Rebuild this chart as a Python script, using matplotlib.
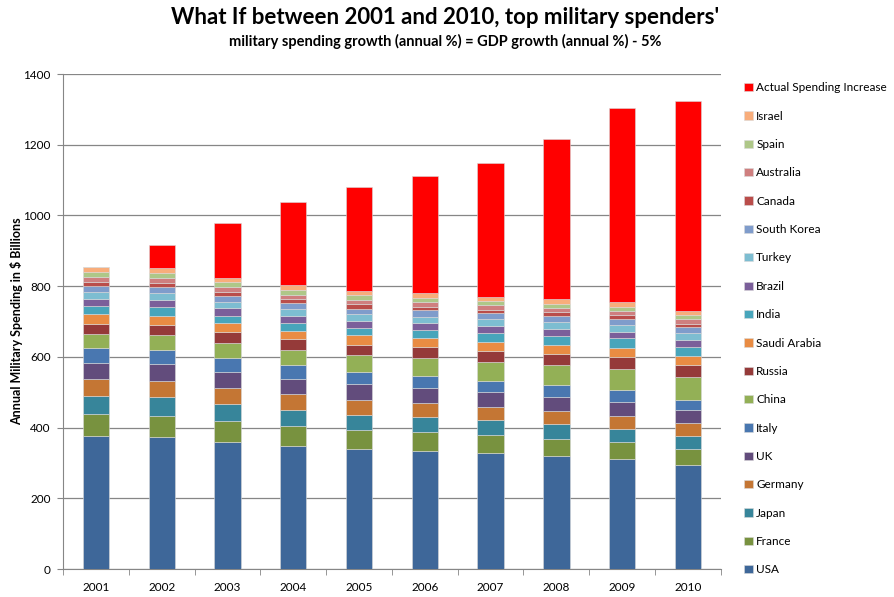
import numpy as np
import matplotlib
matplotlib.use("Agg")
import matplotlib.pyplot as plt

plt.rcParams['font.family'] = ['Lato', 'DejaVu Sans']

years = ["2001", "2002", "2003", "2004", "2005", "2006", "2007", "2008", "2009", "2010"]

# stacked segments, $ billions (bottom to top)
usa       = [377, 374, 360, 349, 340, 335, 329, 320, 311, 295]
france    = [60.5, 60, 58, 54.5, 53, 51.5, 49, 48.5, 47, 45]
japan     = [51.5, 51.5, 48, 46.5, 43, 43.5, 42.5, 42.5, 39, 37]
germany   = [48, 46.5, 46, 44, 42, 39.5, 37.5, 37, 36.5, 36]
uk        = [46, 47, 46, 44, 44, 43.5, 42, 39, 39.5, 37.5]
italy     = [42, 40, 38, 38, 36, 34, 32.5, 32.5, 32, 28.5]
china     = [40, 42, 43, 44, 47, 50, 53, 57.5, 61.5, 65]
russia    = [29, 29, 30, 30, 29, 31, 31.5, 32, 33.5, 34]
saudi     = [26, 26, 26, 24, 27, 24, 26, 24.5, 26, 23.5]
india     = [25, 25, 22, 23, 22, 25, 23.5, 26.5, 26, 27.5]
brazil    = [19, 21, 21, 19, 19, 20, 19.5, 19, 19, 19.5]
turkey    = [20, 18, 17, 18, 19, 17, 21, 18.5, 19, 19]
s_korea   = [16, 17, 17, 18, 15, 18, 16, 17, 17, 16]
canada    = [12, 13, 12, 12, 13, 10, 10, 11.5, 11, 10.5]
australia = [15, 13, 13, 12, 13, 13, 13, 12, 12, 12]
spain     = [14, 13, 14, 14, 12, 12, 12, 12, 11, 11.5]
israel    = [13, 14, 13, 13, 12, 13, 12, 13, 13, 12.5]
actual_increase = [0, 66, 156, 235, 294, 332, 378, 454, 550, 593]

series = [
    ("USA", usa, "#3E6799"),
    ("France", france, "#78923F"),
    ("Japan", japan, "#37859A"),
    ("Germany", germany, "#C47634"),
    ("UK", uk, "#624C7C"),
    ("Italy", italy, "#4977B0"),
    ("China", china, "#93B056"),
    ("Russia", russia, "#953A39"),
    ("Saudi Arabia", saudi, "#E98C43"),
    ("India", india, "#48A5BB"),
    ("Brazil", brazil, "#7B5F9A"),
    ("Turkey", turkey, "#7DBDD1"),
    ("South Korea", s_korea, "#7F9CCB"),
    ("Canada", canada, "#BA4D4A"),
    ("Australia", australia, "#CF7F7F"),
    ("Spain", spain, "#AEC788"),
    ("Israel", israel, "#F8AD7B"),
    ("Actual Spending Increase", actual_increase, "#FF0000"),
]

fig = plt.figure(figsize=(8.95, 5.97), dpi=100)
ax = fig.add_axes([0.0704, 0.0469, 0.735, 0.8291])

x = np.arange(len(years))
bottom = np.zeros(len(years))
handles = []
for name, vals, col in series:
    vals = np.array(vals, dtype=float)
    b = ax.bar(x, vals, 0.4, bottom=bottom, color=col, label=name,
               edgecolor="#D9D9D9", linewidth=0.4, zorder=3)
    handles.append(b)
    bottom += vals

ax.set_xlim(-0.5, 9.5)
ax.set_ylim(0, 1400)
ax.set_yticks(np.arange(0, 1401, 200))
ax.set_xticks(x)
ax.set_xticklabels(years)
ax.set_xticks(np.arange(-0.5, 10, 1), minor=True)
ax.tick_params(axis='x', which='major', length=0, labelsize=8.5, pad=9)
ax.tick_params(axis='x', which='minor', length=4, color="#868686")
ax.tick_params(axis='y', length=4, color="#868686", labelsize=8.5, pad=5)
ax.grid(axis='y', color="#868686", linewidth=0.9, zorder=0)
for s in ["top", "right"]:
    ax.spines[s].set_visible(False)
for s in ["left", "bottom"]:
    ax.spines[s].set_color("#868686")

ax.set_ylabel("Annual Military Spending in $ Billions", fontsize=9, fontweight="bold", labelpad=0)

fig.text(0.497, 0.971, "What If between 2001 and 2010, top military spenders'",
         ha="center", va="center", fontsize=16, fontweight="bold")
fig.text(0.497, 0.931, "military spending growth (annual %) = GDP growth (annual %) - 5%",
         ha="center", va="center", fontsize=10.5, fontweight="bold")

fig.legend(handles[::-1], [s[0] for s in series][::-1], loc="upper left",
           bbox_to_anchor=(0.8265, 0.870), frameon=False, fontsize=8.5,
           handlelength=0.7, handleheight=0.7, handletextpad=0.3,
           labelspacing=1.47, borderaxespad=0)

fig.savefig("out.png", dpi=100)
